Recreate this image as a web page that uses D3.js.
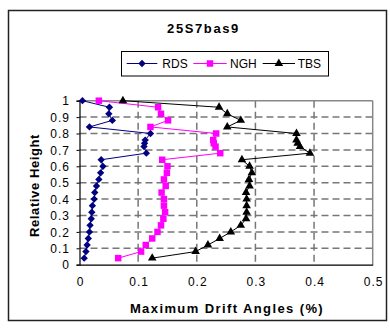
<!DOCTYPE html>
<html><head><meta charset="utf-8">
<script src="https://cdn.jsdelivr.net/npm/d3@7"></script>
<style>
html,body{margin:0;padding:0;background:#fff;}
svg{display:block;font-family:"Liberation Sans",Arial,sans-serif;}
</style></head>
<body>
<script>
const chartTitle = "25S7bas9";
const xTitle = "Maximum Drift Angles (%)";
const yTitle = "Relative Height";
const seriesNames = ["RDS", "NGH", "TBS"];
const heights = [1.0,0.96,0.92,0.88,0.84,0.80,0.76,0.74,0.72,0.68,0.64,0.60,0.56,0.52,0.48,0.44,0.40,0.36,0.32,0.28,0.24,0.20,0.16,0.12,0.08,0.04];
const rds = [0.005,0.051,0.050,0.056,0.017,0.121,0.112,0.111,0.110,0.114,0.037,0.040,0.036,0.033,0.029,0.026,0.025,0.022,0.021,0.020,0.018,0.017,0.015,0.013,0.011,0.008];
const ngh = [0.033,0.134,0.139,0.151,0.121,0.233,0.228,0.229,0.232,0.240,0.141,0.150,0.149,0.144,0.147,0.140,0.144,0.144,0.146,0.143,0.139,0.133,0.124,0.113,0.105,0.066];
const tbs = [0.074,0.238,0.252,0.275,0.252,0.370,0.370,0.372,0.376,0.393,0.277,0.290,0.294,0.289,0.290,0.284,0.285,0.285,0.285,0.284,0.275,0.258,0.239,0.219,0.198,0.124];
const xTicks = [0,0.1,0.2,0.3,0.4,0.5];
const yTicks = [0,0.1,0.2,0.3,0.4,0.5,0.6,0.7,0.8,0.9,1];

const W = 390, H = 328;
const svg = d3.select("body").append("svg").attr("width", W).attr("height", H);
svg.append("rect").attr("width", W).attr("height", H).attr("fill", "#fff");
svg.append("rect").attr("x", 8.5).attr("y", 10.5).attr("width", 378).attr("height", 310)
  .attr("fill", "#fff").attr("stroke", "#222").attr("stroke-width", 1.5);

const L = 79.5, R = 372.7, T = 100.7, B = 264.7;
const x = d3.scaleLinear().domain([0, 0.5]).range([L, R]);
const y = d3.scaleLinear().domain([0, 1]).range([B, T]);

// gridlines
const grid = svg.append("g");
grid.selectAll("line.h").data(yTicks.filter(v => v > 0 && v < 1)).join("line")
  .attr("x1", L).attr("x2", R).attr("y1", d => y(d)).attr("y2", d => y(d))
  .attr("stroke", "#777").attr("stroke-width", 1.5).attr("stroke-dasharray", "7,4");
grid.selectAll("line.v").data(xTicks.filter(v => v > 0 && v < 0.5)).join("line")
  .attr("x1", d => x(d)).attr("x2", d => x(d)).attr("y1", T).attr("y2", B)
  .attr("stroke", "#777").attr("stroke-width", 1.5).attr("stroke-dasharray", "7,4");
// plot frame top & right
svg.append("line").attr("x1", L).attr("x2", R).attr("y1", T).attr("y2", T).attr("stroke", "#888").attr("stroke-width", 1.5);
svg.append("line").attr("x1", R).attr("x2", R).attr("y1", T).attr("y2", B).attr("stroke", "#888").attr("stroke-width", 1.5);

// axes
const xAxis = svg.append("g").attr("transform", `translate(0,${B})`)
  .call(d3.axisBottom(x).tickValues(xTicks).tickFormat(d => d3.format("")(d)).tickSize(0).tickPadding(0));
xAxis.select(".domain").attr("stroke", "#000").attr("stroke-width", 1.2);
xAxis.selectAll("text").attr("y", 21.5).attr("dy", null)
  .attr("font-size", 12).attr("letter-spacing", 1).attr("dx", 0.5).attr("fill", "#000");

const yAxis = svg.append("g").attr("transform", `translate(${L},0)`)
  .call(d3.axisLeft(y).tickValues(yTicks).tickFormat(d => d3.format("")(d)).tickSize(3).tickPadding(0));
yAxis.select(".domain").attr("stroke", "#000").attr("stroke-width", 1.2);
yAxis.selectAll(".tick line").attr("stroke", "#000");
yAxis.selectAll("text").attr("x", -9.5).attr("dy", "0.35em")
  .attr("font-size", 12).attr("letter-spacing", 1).attr("fill", "#000");
svg.selectAll(".tick text").attr("font-family", "Liberation Sans, Arial, sans-serif");

// series
const series = [
  {name: seriesNames[0], vals: rds, color: "#000080", sym: d3.symbolSquare, size: 27, rot: 45},
  {name: seriesNames[1], vals: ngh, color: "#FF00FF", sym: d3.symbolSquare, size: 42, rot: 0},
  {name: seriesNames[2], vals: tbs, color: "#000000", sym: d3.symbolTriangle, size: 32, rot: 0}
];
const line = d3.line().x(d => x(d[0])).y(d => y(d[1]));
series.forEach(s => {
  const pts = s.vals.map((v, i) => [v, heights[i]]);
  svg.append("path").datum(pts).attr("d", line).attr("fill", "none")
    .attr("stroke", s.color).attr("stroke-width", 1);
  svg.append("g").selectAll("path").data(pts).join("path")
    .attr("d", d3.symbol(s.sym, s.size))
    .attr("transform", d => `translate(${x(d[0])},${y(d[1])}) rotate(${s.rot})`)
    .attr("fill", s.color);
});

// titles
svg.append("text").attr("x", 203.5).attr("y", 33.3).attr("text-anchor", "middle")
  .attr("font-size", 13).attr("font-weight", "bold").attr("letter-spacing", 1.6).text(chartTitle);
svg.append("text").attr("x", 227).attr("y", 312.5).attr("text-anchor", "middle")
  .attr("font-size", 13).attr("font-weight", "bold").attr("letter-spacing", 1.4).text(xTitle);
svg.append("text").attr("transform", "translate(39,185.5) rotate(-90)").attr("text-anchor", "middle")
  .attr("font-size", 13).attr("font-weight", "bold").attr("letter-spacing", 0.6).text(yTitle);

// legend
const lg = svg.append("g");
lg.append("rect").attr("x", 121.5).attr("y", 51.5).attr("width", 207).attr("height", 24.5)
  .attr("fill", "#fff").attr("stroke", "#000").attr("stroke-width", 1);
const legendPos = [{x1: 126.7, x2: 157.3, tx: 162.3}, {x1: 193.3, x2: 226.7, tx: 230}, {x1: 262.7, x2: 295, tx: 297.7}];
const ly = 63.5;
series.forEach((s, i) => {
  const p = legendPos[i];
  lg.append("line").attr("x1", p.x1).attr("x2", p.x2).attr("y1", ly).attr("y2", ly)
    .attr("stroke", s.color).attr("stroke-width", 1);
  lg.append("path").attr("d", d3.symbol(s.sym, s.size))
    .attr("transform", `translate(${(p.x1 + p.x2) / 2},${ly}) rotate(${s.rot})`).attr("fill", s.color);
  lg.append("text").attr("x", p.tx).attr("y", 67.5).attr("font-size", 12).text(s.name);
});
</script>
</body></html>
